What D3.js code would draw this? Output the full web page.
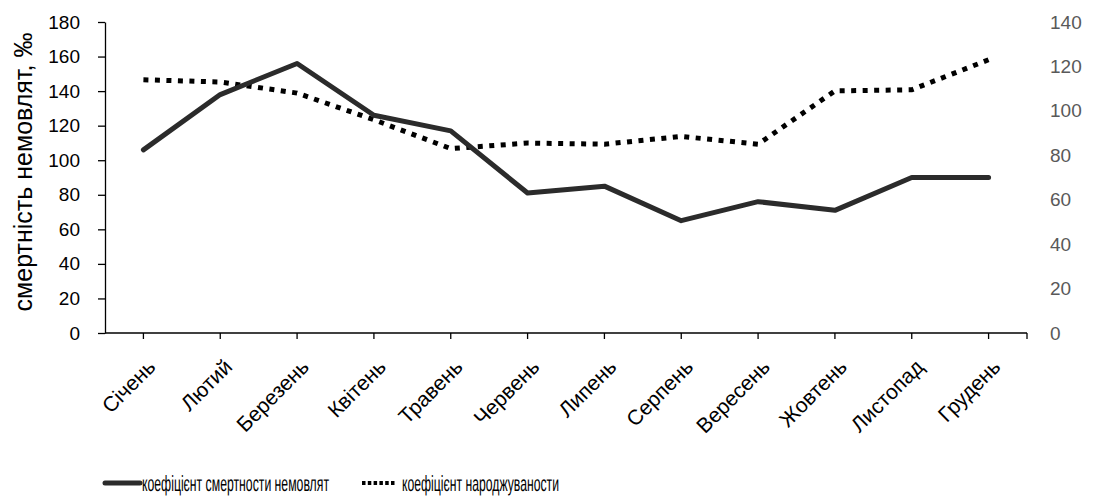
<!DOCTYPE html>
<html><head><meta charset="utf-8">
<script src="https://cdn.jsdelivr.net/npm/d3@7"></script>
<style>body{margin:0;background:#fff}svg{display:block}</style>
</head><body><svg id="c" width="1097" height="498"></svg>
<script>
const months = ["Січень","Лютий","Березень","Квітень","Травень","Червень","Липень","Серпень","Вересень","Жовтень","Листопад","Грудень"];
const mortality = [106,138,156,126,117,81,85,65,76,71,90,90];
const births = [114,113,108,96,83,85.5,85,88.5,85,109,109.5,123];
const leftTicks = [0,20,40,60,80,100,120,140,160,180];
const rightTicks = [0,20,40,60,80,100,120,140];
const yTitle = "смертність немовлят, ‰";
const legendLabels = ["коефіцієнт смертности немовлят","коефіцієнт народжуваности"];

const svg = d3.select("#c");
const L=105, R=1027, T=22, B=333;
const x = d3.scaleBand().domain(months).range([L,R]);
const cx = d => x(d)+x.bandwidth()/2;
const yL = d3.scaleLinear().domain([0,180]).range([B,T]);
const yR = d3.scaleLinear().domain([0,140]).range([B,T]);
const font = "Liberation Sans, Arial, sans-serif";

// left axis
const gL = svg.append("g").attr("transform",`translate(${L},0)`)
  .call(d3.axisLeft(yL).tickValues(leftTicks).tickSize(7).tickSizeOuter(0).tickPadding(18));
gL.selectAll("text").attr("font-family",font).attr("font-size",19).attr("fill","#000");
gL.selectAll("line,path").attr("stroke","#000").attr("stroke-width",1.3);

// right axis (labels only)
const gR = svg.append("g").attr("transform",`translate(${R},0)`)
  .call(d3.axisRight(yR).tickValues(rightTicks).tickSize(0).tickPadding(23));
gR.select("path").remove();
gR.selectAll("text").attr("font-family",font).attr("font-size",19).attr("fill","#595959");

// x axis
const gX = svg.append("g").attr("transform",`translate(0,${B})`);
gX.append("line").attr("x1",L).attr("x2",R).attr("stroke","#000").attr("stroke-width",1.3);
gX.selectAll("line.t").data(months.map(cx).concat([R])).join("line").attr("class","t")
  .attr("x1",d=>d).attr("x2",d=>d).attr("y1",0).attr("y2",6).attr("stroke","#000").attr("stroke-width",1.3);
gX.selectAll("text").data(months).join("text")
  .attr("transform",d=>`translate(${cx(d)+8},${30}) rotate(-45)`)
  .attr("text-anchor","end").attr("font-family",font).attr("font-size",21).attr("fill","#000")
  .attr("dy","0.35em").text(d=>d);

// y title
svg.append("text").attr("transform",`translate(32,${172}) rotate(-90)`)
  .attr("text-anchor","middle").attr("font-family",font).attr("font-size",25).text(yTitle);

// lines
const lineM = d3.line().x((d,i)=>cx(months[i])).y(d=>yL(d));
const lineB = d3.line().x((d,i)=>cx(months[i])).y(d=>yR(d));
svg.append("path").datum(births).attr("d",lineB).attr("fill","none")
  .attr("stroke","#000").attr("stroke-width",5).attr("stroke-dasharray","5,6.5");
svg.append("path").datum(mortality).attr("d",lineM).attr("fill","none")
  .attr("stroke","#2b2b2b").attr("stroke-width",5).attr("stroke-linecap","round").attr("stroke-linejoin","round");

// legend
const ly = 483;
function legendText(x0, target, label){
  const g = svg.append("g");
  const t = g.append("text").attr("x",0).attr("y",0).attr("dy","0.35em")
    .attr("font-family",font).attr("font-size",22)
    .attr("text-rendering","geometricPrecision").text(label);
  const w = t.node().getComputedTextLength();
  g.attr("transform",`translate(${x0},${ly}) scale(${(target/w).toFixed(4)},1)`);
}
svg.append("line").attr("x1",105).attr("x2",140).attr("y1",ly).attr("y2",ly)
  .attr("stroke","#2b2b2b").attr("stroke-width",5).attr("stroke-linecap","round");
legendText(142, 187, legendLabels[0]);
svg.append("line").attr("x1",362).attr("x2",395).attr("y1",ly).attr("y2",ly)
  .attr("stroke","#000").attr("stroke-width",4).attr("stroke-dasharray","3.5,2.3");
legendText(402, 157, legendLabels[1]);
</script></body></html>
